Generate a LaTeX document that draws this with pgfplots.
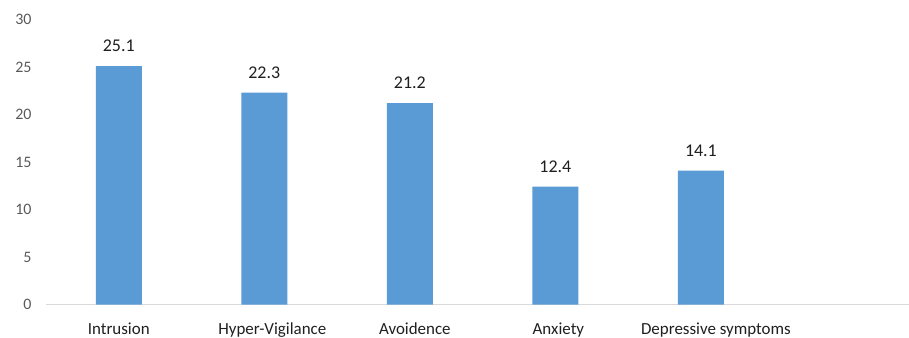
\documentclass[border=0pt]{standalone}
\usepackage{pgfplots}
\pgfplotsset{compat=1.18}
\usepackage{fontspec}
\setmainfont{Carlito}
\definecolor{barblue}{HTML}{5B9BD5}
\definecolor{axisgray}{HTML}{D9D9D9}
\definecolor{ticktext}{HTML}{595959}
\definecolor{labtext}{HTML}{1F1F1F}
\begin{document}
\begin{tikzpicture}
\path[use as bounding box] (0,0) rectangle (909bp,338bp);
\begin{axis}[
  at={(46bp,33.5bp)}, anchor=south west,
  scale only axis,
  width=863bp, height=285bp,
  xmin=-0.5, xmax=5.43,
  ymin=0, ymax=30,
  ytick={0,5,10,15,20,25,30},
  xtick={0,1,2,3,4},
  xticklabels={Intrusion,\hspace*{16bp}Hyper-Vigilance,\hspace*{10bp}Avoidence,\hspace*{6bp}Anxiety,\hspace*{30bp}Depressive symptoms},
  axis x line=bottom,
  axis y line=left,
  y axis line style={draw=none},
  x axis line style={-, draw=axisgray, line width=1.3bp},
  major tick length=0pt,
  /pgf/number format/assume math mode=true,
  yticklabel style={font=\fontsize{16}{16}\selectfont, text=ticktext, anchor=east, xshift=-11bp},
  xticklabel style={font=\fontsize{17}{17}\selectfont, text=labtext, anchor=base, yshift=-30bp},
  ybar, bar width=46bp,
  nodes near coords,
  nodes near coords style={font=\fontsize{18}{18}\selectfont, text=labtext, anchor=center, yshift=20bp,
    /pgf/number format/.cd, fixed, fixed zerofill, precision=1},
  clip=false,
]
\addplot[fill=barblue, draw=none] coordinates {(0,25.1) (1,22.3) (2,21.2) (3,12.4) (4,14.1)};
\end{axis}
\end{tikzpicture}
\end{document}
